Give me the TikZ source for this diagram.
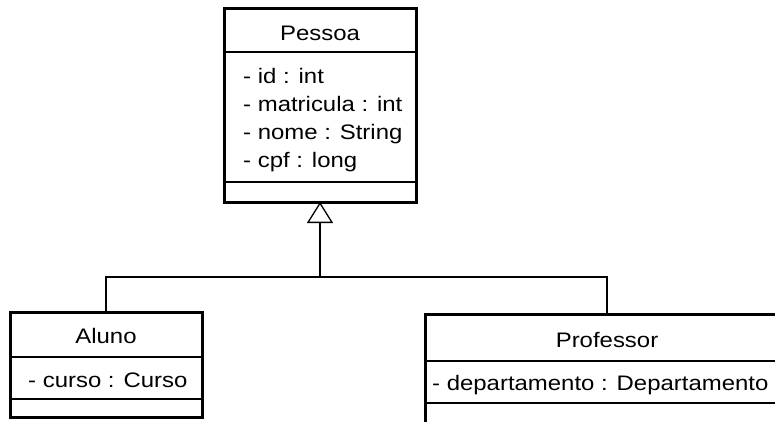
\documentclass[tikz,border=0pt]{standalone}
\usepackage{fontspec}
\setmainfont{Liberation Sans}[FakeStretch=1.14]
\usetikzlibrary{arrows.meta}
\begin{document}
\begin{tikzpicture}[x=1pt,y=-1pt,
  umlbox/.style={draw=black, line width=3pt, anchor=north west, inner sep=0pt, outer sep=0pt},
  sepline/.style={draw=black, line width=1.3pt},
  conn/.style={draw=black, line width=1.3pt},
  txt/.style={inner sep=0pt, font=\fontsize{21}{25}\selectfont}
]
\useasboundingbox (0,0) rectangle (775,421);
\clip (0,0) rectangle (775,421);
% boxes
\node[umlbox, minimum width=192pt, minimum height=194pt] (pessoa) at (224,8) {};
\node[umlbox, minimum width=192pt, minimum height=105pt] (aluno) at (10,312) {};
\node[umlbox, minimum width=364pt, minimum height=120pt] (professor) at (425,314) {};
% separators
\draw[sepline] (pessoa.west |- 0,52) -- (pessoa.east |- 0,52);
\draw[sepline] (pessoa.west |- 0,182) -- (pessoa.east |- 0,182);
\draw[sepline] (aluno.west |- 0,357) -- (aluno.east |- 0,357);
\draw[sepline] (aluno.west |- 0,399) -- (aluno.east |- 0,399);
\draw[sepline] (professor.west |- 0,361) -- (professor.east |- 0,361);
\draw[sepline] (professor.west |- 0,403) -- (professor.east |- 0,403);
% texts
\node[txt, anchor=base] (tPessoa) at (320,40) {Pessoa};
\node[txt, anchor=base west] (a1) at (243,83) {- id : int};
\node[txt, anchor=base west] (a2) at (243,111) {- matricula : int};
\node[txt, anchor=base west] (a3) at (243,139) {- nome : String};
\node[txt, anchor=base west] (a4) at (243,167) {- cpf : long};
\node[txt, anchor=base] (tAluno) at (106,343) {Aluno};
\node[txt, anchor=base west] (b1) at (28,387) {- curso : Curso};
\node[txt, anchor=base] (tProf) at (607,347) {Professor};
\node[txt, anchor=base west] (c1) at (432,390) {- departamento : Departamento};
% connectors
\coordinate (joint) at (320,277);
\draw[conn] (aluno.north) |- (joint) -| (professor.north);
\draw[conn, -{Triangle[open, length=21pt, width=26pt, line width=1.3pt]}] (joint) -- (pessoa.south);
\end{tikzpicture}
\end{document}
